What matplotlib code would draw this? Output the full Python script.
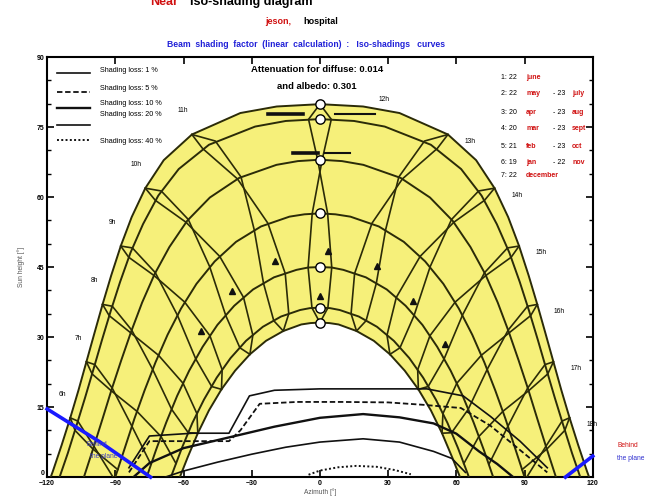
import numpy as np
import matplotlib.pyplot as plt

plt.rcParams['font.family'] = ['Liberation Sans', 'DejaVu Sans']

nan = np.nan

# afternoon half of each sun path, read at these hour angles (deg from solar noon)
hour_angle = [0, 3.75, 7.5, 15, 22.5, 30, 37.5, 45, 52.5, 60, 67.5, 75, 82.5, 90, 97.5, 105]
date_az = [
    [0, 19.0, 35.0, 56.3, 68.7, 76.8, 82.8, 87.6, 91.8, 95.6, 99.2, 102.7, 106.2, 109.8, 113.6, 117.5],  # 22 june
    [0, 15.0, 28.5, 48.8, 62.1, 71.1, 77.8, 83.3, 87.9, 92.0, 95.9, 99.6, 103.3, 107.1, 110.9, nan],     # 22 may / 23 july
    [0, 9.7, 19.1, 35.5, 48.4, 58.4, 66.2, 72.7, 78.2, 83.0, 87.4, 91.6, 95.6, 99.6, nan, nan],         # 20 apr / 23 aug
    [0, 6.8, 13.4, 25.9, 36.9, 46.3, 54.3, 61.1, 67.0, 72.3, 77.1, 81.6, 85.8, 90.0, nan, nan],         # 20 mar / 23 sept
    [0, 5.2, 10.3, 20.2, 29.4, 37.7, 45.1, 51.6, 57.5, 62.8, 67.6, 72.1, nan, nan, nan, nan],           # 21 feb / 23 oct
    [0, 4.4, 8.7, 17.1, 25.1, 32.5, 39.3, 45.4, 51.0, 56.1, 60.7, 65.0, nan, nan, nan, nan],            # 19 jan / 22 nov
    [0, 4.1, 8.2, 16.1, 23.7, 30.8, 37.3, 43.3, 48.8, 53.7, 58.2, nan, nan, nan, nan, nan],             # 22 december
]
date_h = [
    [79.9, 79.4, 78.0, 73.4, 67.9, 61.9, 55.7, 49.5, 43.2, 37.0, 30.8, 24.7, 18.6, 12.7, 6.85, 1.2],
    [76.7, 76.3, 75.1, 71.2, 66.0, 60.3, 54.2, 48.1, 41.8, 35.6, 29.3, 23.1, 17.0, 11.0, 5.1, nan],
    [68.0, 67.7, 66.9, 64.1, 59.9, 54.9, 49.3, 43.5, 37.4, 31.2, 25.0, 18.8, 12.5, 6.3, nan, nan],
    [56.5, 56.3, 55.8, 53.7, 50.4, 46.2, 41.4, 36.1, 30.5, 24.6, 18.6, 12.5, 6.25, 0.0, nan, nan],
    [45.0, 44.9, 44.4, 42.8, 40.2, 36.7, 32.6, 27.9, 22.8, 17.4, 11.7, 5.8, nan, nan, nan, nan],
    [36.3, 36.2, 35.8, 34.4, 32.2, 29.2, 25.5, 21.3, 16.6, 11.6, 6.25, 0.7, nan, nan, nan, nan],
    [33.1, 33.0, 32.7, 31.3, 29.2, 26.3, 22.8, 18.8, 14.3, 9.4, 4.2, nan, nan, nan, nan, nan],
]
sunset_az = [118.4, 114.5, 103.8, 90.0, 76.2, 65.5, 61.6]

# afternoon hour lines (12h .. 18h), two per hour: first and second half of the year
line_hours = [12, 13, 14, 15, 16, 17, 18]
hour_a_az = [
    [0, 5.0, 1.0, -3.4, -5.2, -3.5, 0],
    [56.3, 51.6, 36.3, 22.9, 15.25, 13.7, 16.1],
    [76.8, 72.4, 58.9, 44.1, 33.6, 29.5, 30.8],
    [87.6, 84.1, 73.0, 59.5, 48.4, 43.0, 43.3],
    [95.6, 92.7, 83.2, 71.0, 60.2, 54.1, 53.7],
    [102.7, 100.2, 91.8, 80.5, 69.9, 63.3, nan],
    [109.8, 107.7, 99.8, 88.9, nan, nan, nan],
]
hour_a_h = [
    [79.9, 76.65, 68.0, 56.45, 44.9, 36.25, 33.1],
    [73.4, 70.4, 63.9, 54.4, 43.6, 35.0, 31.3],
    [61.9, 59.3, 54.6, 47.3, 38.5, 30.4, 26.3],
    [49.5, 47.1, 43.2, 37.5, 30.3, 23.0, 18.8],
    [37.0, 34.6, 30.9, 26.1, 20.1, 13.6, 9.4],
    [24.7, 22.1, 18.5, 14.1, 8.7, 2.9, nan],
    [12.7, 10.0, 6.0, 1.6, nan, nan, nan],
]
hour_b_az = [
    [0, -5.0, -1.0, 3.4, 5.2, 3.5, 0],
    [56.3, 46.0, 34.7, 28.9, 24.8, 20.3, 16.1],
    [76.8, 69.8, 57.9, 48.5, 41.4, 35.2, 30.8],
    [87.6, 82.5, 72.4, 62.7, 54.6, 47.6, 43.3],
    [95.6, 91.3, 82.8, 73.6, 65.2, 57.9, 53.7],
    [102.7, 99.0, 91.4, 82.7, 74.4, nan, nan],
    [109.8, 106.5, 99.4, 91.0, nan, nan, nan],
]
hour_b_h = [
    [79.9, 76.65, 68.0, 56.45, 44.9, 36.25, 33.1],
    [73.4, 72.0, 64.3, 53.0, 41.5, 33.5, 31.3],
    [61.9, 61.3, 55.2, 45.1, 34.6, 27.7, 26.3],
    [49.5, 49.1, 43.8, 34.7, 25.3, 19.4, 18.8],
    [37.0, 36.6, 31.5, 23.1, 14.5, 9.5, 9.4],
    [24.7, 24.1, 19.1, 10.9, 2.8, nan, nan],
    [12.7, 12.0, 6.6, 0.0, nan, nan, nan],
]

# iso-shading curves
iso_labels = ["Shading loss: 1 %", "Shading loss: 5 %", "Shading loss: 10 %",
              "Shading loss: 20 %", "Shading loss: 40 %"]
iso_az = [
    [-84, -75, -56, -40, -31, -20, 0, 20, 47, 63, 75, 88, 100],
    [-84, -75, -40, -35, -26.5, -10, 10, 30, 45, 62, 75, 90, 100],
    [-82, -75, -60, -40, -20, 0, 19, 35, 50, 60, 70, 78, 85],
    [-68, -60, -45, -30, -15, 0, 19, 35, 50, 58, 64],
    [-5, 0, 8, 16, 25, 33, 40],
]
iso_h = [
    [2, 8.8, 9.4, 9.4, 17.4, 18.6, 18.9, 18.9, 18.9, 17.4, 13, 7.7, 2],
    [1, 7.7, 7.7, 10, 15.7, 16.1, 16.1, 16, 15.5, 14.8, 11, 5, 1],
    [0, 3, 6.2, 8.5, 10.8, 12.7, 13.5, 12.8, 11.5, 9.3, 5.5, 2.8, 0],
    [0, 1.3, 3.2, 4.9, 6.4, 7.5, 8.2, 7.5, 5.5, 4, 1],
    [0.5, 1.4, 2.1, 2.4, 2.2, 1.5, 0.6],
]

# short iso-shading pieces near the top and the arrow marks
mark_az = [[-23, -7.5], [6.6, 24.3], [-12, -1], [2.2, 13.3]]
mark_h = [[77.7, 77.7], [77.7, 77.7], [69.5, 69.5], [69.5, 69.5]]
tri_az = [-19.9, 3.5, 25.2, -38.5, -52.2, 41.1, 55.2, 0]
tri_h = [46.4, 48.5, 45.3, 39.9, 31.3, 37.8, 28.5, 38.8]

# "behind the plane" limits
behind_left_az = [-120, -97, -74.5]
behind_left_h = [14.6, 7.6, 0]
behind_right_az = [108, 120]
behind_right_h = [0, 4.5]

date_rows = [("1: 22", "june", "", ""), ("2: 22", "may", "- 23", "july"),
             ("3: 20", "apr", "- 23", "aug"), ("4: 20", "mar", "- 23", "sept"),
             ("5: 21", "feb", "- 23", "oct"), ("6: 19", "jan", "- 22", "nov"),
             ("7: 22", "december", "", "")]


def full_path(az, h, az_set):
    az = np.array(az, float)
    h = np.array(h, float)
    ok = ~np.isnan(az)
    a, b = az[ok], h[ok]
    xs = np.concatenate([[-az_set], -a[::-1], a[1:], [az_set]])
    ys = np.concatenate([[0], b[::-1], b[1:], [0]])
    return xs, ys


fig = plt.figure(figsize=(6.45, 4.98), dpi=100)
ax = fig.add_axes([0.073, 0.042, 0.846, 0.8435])
line_col = '#2b2b08'

# yellow band between june and december paths
jx, jy = full_path(date_az[0], date_h[0], sunset_az[0])
dx, dy = full_path(date_az[-1], date_h[-1], sunset_az[-1])
ax.fill(np.concatenate([jx, dx[::-1]]), np.concatenate([jy, dy[::-1]]),
        color='#f6f07a', zorder=1, lw=0)

for i in range(len(date_az)):
    xs, ys = full_path(date_az[i], date_h[i], sunset_az[i])
    ax.plot(xs, ys, color=line_col, lw=1.4, zorder=3)

# hour lines, mirrored for the morning
for tab_az, tab_h in [(hour_a_az, hour_a_h), (hour_b_az, hour_b_h)]:
    for k in range(len(line_hours)):
        pa = np.array(tab_az[k], float)
        ph = np.array(tab_h[k], float)
        ok = ~np.isnan(pa)
        ax.plot(pa[ok], ph[ok], color=line_col, lw=1.2, zorder=3)
        if k > 0:
            ax.plot(-pa[ok], ph[ok], color=line_col, lw=1.2, zorder=3)

# hour labels outside the june path
for k, hr in enumerate(line_hours):
    a, h = hour_a_az[k][0], hour_a_h[k][0]
    if hr == 12:
        ax.annotate("12h", (a, h), xytext=(42, 2), textcoords='offset points',
                    fontsize=4.8, ha='left')
        continue
    ax.annotate(f"{hr}h", (a, h), xytext=(12, -5), textcoords='offset points',
                fontsize=4.8, ha='left', va='center')
    ax.annotate(f"{24 - hr}h", (-a, h), xytext=(-3, 17), textcoords='offset points',
                fontsize=4.8, ha='right', va='center')

# noon points
noon_h = [row[0] for row in date_h]
ax.scatter([0] * len(noon_h), noon_h, s=45, facecolor='white', edgecolor='black',
           lw=1.0, zorder=6)

# iso-shading curves
iso_styles = [dict(ls='-', lw=1.2), dict(ls=(0, (3, 1.5)), lw=1.3),
              dict(ls='-', lw=1.7), dict(ls='-', lw=1.2),
              dict(ls=(0, (1, 1.2)), lw=1.4)]
for i in range(len(iso_az)):
    ax.plot(iso_az[i], iso_h[i], color='#111111', zorder=4, **iso_styles[i])

for i in range(len(mark_az)):
    ax.plot(mark_az[i], mark_h[i], color='#111111', lw=2.6 if i % 2 == 0 else 1.5, zorder=5)
ax.plot(tri_az, tri_h, ls='none', marker='^', ms=3.8, color='#111111', zorder=5)

ax.plot(behind_left_az, behind_left_h, color='#1a1aff', lw=2.6, zorder=5, clip_on=False)
ax.plot(behind_right_az, behind_right_h, color='#1a1aff', lw=2.6, zorder=5, clip_on=False)
ax.text(-102.5, 6.7, "Behind", fontsize=4.8, color='#4040c0', zorder=6)
ax.text(-101, 4.0, "the plane", fontsize=4.8, color='#4040c0', zorder=6)
fig.text(0.957, 0.102, "Behind", fontsize=4.8, color='#d01010')
fig.text(0.957, 0.076, "the plane", fontsize=4.8, color='#3030d0')

# legend of iso-shading curves
leg_y = [0.962, 0.917, 0.879, 0.838, 0.802]
txt_y = [0.969, 0.924, 0.890, 0.864, 0.798]
for i in range(len(iso_labels)):
    ax.plot([0.018, 0.079], [leg_y[i], leg_y[i]], transform=ax.transAxes,
            color='#111111', zorder=6, **iso_styles[i])
    ax.text(0.097, txt_y[i], iso_labels[i], transform=ax.transAxes,
            fontsize=5.2, va='center')

ax.text(0.495, 0.971, "Attenuation for diffuse: 0.014", transform=ax.transAxes,
        fontsize=6.8, ha='center', va='center', fontweight='bold', zorder=7)
ax.text(0.495, 0.931, "and albedo: 0.301", transform=ax.transAxes,
        fontsize=6.8, ha='center', va='center', fontweight='bold', zorder=7)

# legend of dates
row_y = [0.952, 0.914, 0.869, 0.831, 0.786, 0.750, 0.719]
for i, (n1, m1, n2, m2) in enumerate(date_rows):
    ax.text(0.832, row_y[i], n1, transform=ax.transAxes, fontsize=5, va='center')
    ax.text(0.878, row_y[i], m1, transform=ax.transAxes, fontsize=5, va='center',
            color='#d01010', fontweight='bold')
    ax.text(0.928, row_y[i], n2, transform=ax.transAxes, fontsize=5, va='center')
    ax.text(0.962, row_y[i], m2, transform=ax.transAxes, fontsize=5, va='center',
            color='#d01010', fontweight='bold')

# titles
fig.text(0.233, 1 - 5 / 498, "Near", fontsize=9, color='#d01010', fontweight='bold',
         va='baseline')
fig.text(0.295, 1 - 5 / 498, "Iso-shading diagram", fontsize=9, fontweight='bold',
         va='baseline')
fig.text(0.411, 0.956, "jeson,", fontsize=6.5, color='#d01010', fontweight='bold',
         va='center')
fig.text(0.470, 0.956, "hospital", fontsize=6.5, fontweight='bold', va='center')
fig.text(0.475, 0.910, "Beam  shading  factor  (linear  calculation)  :   Iso-shadings   curves",
         fontsize=6.2, color='#2020d8', fontweight='bold', ha='center', va='center')

ax.set_xlim(-120, 120)
ax.set_ylim(0, 90)
ax.set_xticks(np.arange(-120, 121, 30))
ax.set_yticks(np.arange(0, 91, 15))
ax.set_yticks(np.arange(0, 91, 5), minor=True)
ax.tick_params(direction='in', top=True, right=True, labelsize=5, length=5, width=1.2, pad=2)
ax.tick_params(which='minor', direction='in', right=True, length=3, width=1)
for lab in ax.get_xticklabels() + ax.get_yticklabels():
    lab.set_fontweight('bold')
ax.yaxis.get_major_ticks()[0].label1.set_verticalalignment('bottom')
for s in ax.spines.values():
    s.set_linewidth(1.5)
ax.set_xlabel("Azimuth [°]", fontsize=4.8, color='#555555', labelpad=1)
ax.set_ylabel("Sun height [°]", fontsize=4.8, color='#555555', labelpad=8)

fig.savefig("out.png", dpi=100)
